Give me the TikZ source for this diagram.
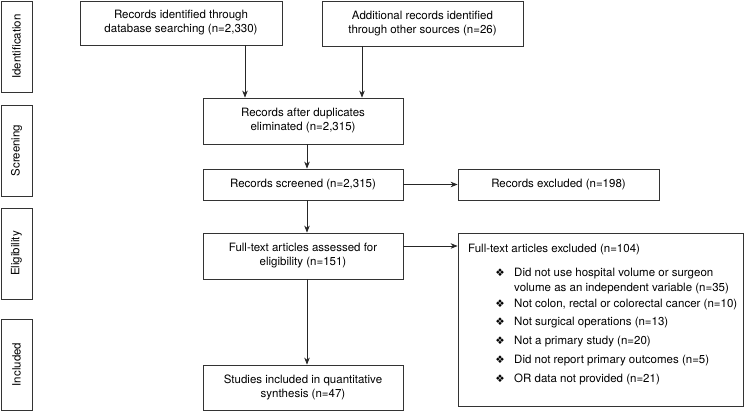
\documentclass[tikz,border=0pt]{standalone}
\usepackage{fontspec}
\setmainfont{TeX Gyre Heros}
\newfontfamily\dingfont{DejaVu Sans}
\usetikzlibrary{arrows.meta}
\usetikzlibrary{positioning}

\tikzset{
  box/.style={draw=black!80, line width=0.8pt, align=center, inner sep=2pt,
    font=\fontsize{11.5}{14}\selectfont},
  stagebox/.style={box, rotate=90, minimum width=91pt, minimum height=31pt},
  flow/.style={-{Stealth[length=7pt,width=5.5pt]}, line width=0.7pt, draw=black!85},
  listtext/.style={font=\fontsize{11.5}{14}\selectfont, inner sep=0pt, anchor=base west},
  dingbat/.style={font=\dingfont\fontsize{10.5}{10.5}\selectfont, inner sep=0pt, anchor=base},
}

\begin{document}
\begin{tikzpicture}[x=1pt,y=-1pt]
		\useasboundingbox (0,0) rectangle (745,412);
		% stage labels
		\node[stagebox] (ident) at (16.5,46.5) {Identification};
		\node[stagebox] (screen) at (16.5,150.5) {Screening};
		\node[stagebox] (elig) at (16.5,253.5) {Eligibility};
		\node[stagebox] (incl) at (16.5,364.5) {Included};
		% flow boxes
		\node[box, minimum width=202, minimum height=44] (dbsearch) at (181,23) {Records identified through\\database searching (n=2,330)};
		\node[box, minimum width=201, minimum height=45] (othersrc) at (422.5,23.5) {Additional records identified\\through other sources (n=26)};
		\node[box, minimum width=200, minimum height=46] (dedup) at (303,121) {Records after duplicates\\eliminated (n=2,315)};
		\node[box, minimum width=200, minimum height=31] (screened) at (303,184.5) {Records screened (n=2,315)};
		\node[box, minimum width=200, minimum height=46] (fulltext) at (303,256) {Full-text articles assessed for\\eligibility (n=151)};
		\node[box, minimum width=200, minimum height=45] (included) at (303,387.5) {Studies included in quantitative\\synthesis (n=47)};
		% exclusion boxes
		\node[box, minimum width=201, minimum height=31] (recexcl) at (558.5,184.5) {Records excluded (n=198)};
		\node[box, minimum width=285, minimum height=173] (ftexcl) at (600.5,319.5) {};
		\node[listtext] (fthead) at (468,252) {Full-text articles excluded (n=104)};
		\foreach \yy in {276,307,325,344,363,382} {
			\node[dingbat] (bullet\yy) at (500,\yy) {❖};
		}
		\foreach \yy/\entry in {276/Did not use hospital volume or surgeon,
			291/volume as an independent variable (n=35),
			307/{Not colon, rectal or colorectal cancer (n=10)},
			325/Not surgical operations (n=13),
			344/Not a primary study (n=20),
			363/Did not report primary outcomes (n=5),
			382/OR data not provided (n=21)} {
			\node[listtext] (entry\yy) at (514,\yy) {\entry};
		}
		% connectors
		\coordinate (leftdrop) at (245,0);
		\coordinate (rightdrop) at (362,0);
		\coordinate (spine) at (307,0);
		\coordinate (ftarrow) at (0,246);
		\draw[flow] (dbsearch.south -| leftdrop) -- (dedup.north -| leftdrop);
		\draw[flow] (othersrc.south -| rightdrop) -- (dedup.north -| rightdrop);
		\draw[flow] (dedup.south -| spine) -- (screened.north -| spine);
		\draw[flow] (screened.south -| spine) -- (fulltext.north -| spine);
		\draw[flow] (fulltext.south -| spine) -- (included.north -| spine);
		\draw[flow] (screened.east) -- (recexcl.west);
		\draw[flow] (fulltext.east |- ftarrow) -- (ftexcl.west |- ftarrow);
	\end{tikzpicture}
\end{document}
